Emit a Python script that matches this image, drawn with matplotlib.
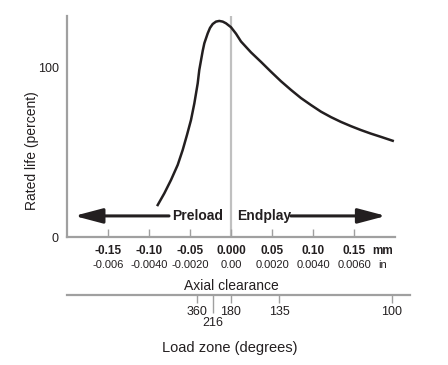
import matplotlib.pyplot as plt
from matplotlib.transforms import blended_transform_factory

plt.rcParams['font.family'] = ['Liberation Sans', 'DejaVu Sans']

# Rated life curve (axial clearance in mm vs rated life in percent)
clearance_mm = [-0.0894, -0.0813, -0.0732, -0.065, -0.0589, -0.0537, -0.0488,
                -0.0447, -0.0406, -0.0387, -0.0345, -0.0325, -0.0284, -0.0256,
                -0.0223, -0.0183, -0.0143, -0.0101, -0.0061, 0.0, 0.0061,
                0.0122, 0.0244, 0.0366, 0.0488, 0.061, 0.0732, 0.0854, 0.0976,
                0.1098, 0.122, 0.1341, 0.1463, 0.1585, 0.1707, 0.1829, 0.1972]
rated_life = [18.8, 25.7, 33.5, 42.4, 51.2, 60.0, 68.8, 78.6, 90.4, 98.2,
              109.5, 114.0, 119.8, 123.0, 125.3, 126.7, 127.1, 126.7, 125.7,
              123.4, 119.6, 115.0, 108.6, 103.0, 97.2, 91.6, 86.5, 81.7, 77.6,
              73.7, 70.5, 67.7, 65.2, 62.9, 60.8, 58.9, 56.6]

# Axial clearance ticks
mm_ticks = [-0.15, -0.10, -0.05, 0.0, 0.05, 0.10, 0.15]
mm_labels = ['-0.15', '-0.10', '-0.05', '0.000', '0.05', '0.10', '0.15']
in_labels = ['-0.006', '-0.0040', '-0.0020', '0.00', '0.0020', '0.0040', '0.0060']

# Load zone scale (positions in mm on the same axis)
zone_pos = [-0.0415, 0.0, 0.0598, 0.197]
zone_labels = ['360', '180', '135', '100']
zone_minor_pos = [-0.022]
zone_minor_labels = ['216']

W, H = 448, 365
dark = '#231f20'
gray = '#a0a0a0'

fig = plt.figure(figsize=(W / 100, H / 100), dpi=100)
x0, x1 = 67, 395
ax = fig.add_axes([x0 / W, (H - 237) / H, (x1 - x0) / W, (237 - 16) / H])
ax.set_xlim(-0.2, 0.2)
ax.set_ylim(0, 130)

for s in ['top', 'right']:
    ax.spines[s].set_visible(False)
for s in ['left', 'bottom']:
    ax.spines[s].set_color(gray)
    ax.spines[s].set_linewidth(1.6)

ax.axvline(0, color='#c0c0c0', lw=1.6, zorder=1)
ax.plot(clearance_mm, rated_life, color=dark, lw=1.8, zorder=3)

ax.set_yticks([0, 100])
ax.set_yticklabels(['0', '100'], fontsize=9, color=dark)
ax.tick_params(axis='y', length=0, pad=6)
ax.set_ylabel('Rated life (percent)', fontsize=10, color=dark)
ax.yaxis.set_label_coords((39 - x0) / (x1 - x0), 0.39)

ax.set_xticks(mm_ticks)
ax.set_xticklabels(mm_labels, fontsize=8.5, fontweight='bold', color=dark)
ax.tick_params(axis='x', direction='in', length=6, width=1, color=gray, pad=6)
tr = blended_transform_factory(ax.transData, ax.transAxes)
for xv, lab in zip(mm_ticks, in_labels):
    ax.text(xv, -0.125, lab, transform=tr, ha='center', va='center',
            fontsize=8, color=dark)
ax.text(0.185, -0.062, 'mm', transform=tr, ha='center', va='center',
        fontsize=8.5, fontweight='bold', color=dark)
ax.text(0.185, -0.125, 'in', transform=tr, ha='center', va='center',
        fontsize=8, color=dark)
ax.text(0.0, -0.22, 'Axial clearance', transform=tr, ha='center', va='center',
        fontsize=10, color=dark)

# Preload / Endplay arrows
ay = 12.4
arrow = dict(arrowstyle='-|>,head_length=1.7,head_width=0.45', color=dark,
             lw=2.2, shrinkA=0, shrinkB=0)
ax.annotate('', xy=(-0.191, ay), xytext=(-0.0756, ay), arrowprops=arrow)
ax.annotate('', xy=(0.189, ay), xytext=(0.073, ay), arrowprops=arrow)
ax.text(-0.0098, ay, 'Preload', ha='right', va='center', fontsize=10,
        fontweight='bold', color=dark)
ax.text(0.0073, ay, 'Endplay', ha='left', va='center', fontsize=10,
        fontweight='bold', color=dark)

# Load zone axis
x2 = 410
ax2 = fig.add_axes([x0 / W, (H - 295) / H, (x2 - x0) / W, 0.001])
ax2.set_xlim(-0.2, (x2 - 230) / 820)
ax2.set_ylim(0, 1)
for s in ['top', 'right', 'left']:
    ax2.spines[s].set_visible(False)
ax2.spines['bottom'].set_color(gray)
ax2.spines['bottom'].set_linewidth(1.6)
ax2.set_yticks([])
ax2.set_xticks(zone_pos)
ax2.set_xticklabels(zone_labels, fontsize=9, color=dark)
ax2.set_xticks(zone_minor_pos, minor=True)
ax2.set_xticklabels(zone_minor_labels, minor=True, fontsize=9, color=dark)
ax2.tick_params(axis='x', which='major', direction='out', length=6, width=1,
                color=gray, pad=2)
ax2.tick_params(axis='x', which='minor', direction='out', length=13, width=1,
                color=gray, pad=3)
ax2.patch.set_alpha(0)
fig.text(230 / W, (H - 348) / H, 'Load zone (degrees)', ha='center',
         va='center', fontsize=10.5, color=dark)

fig.savefig('out.png', dpi=100)
